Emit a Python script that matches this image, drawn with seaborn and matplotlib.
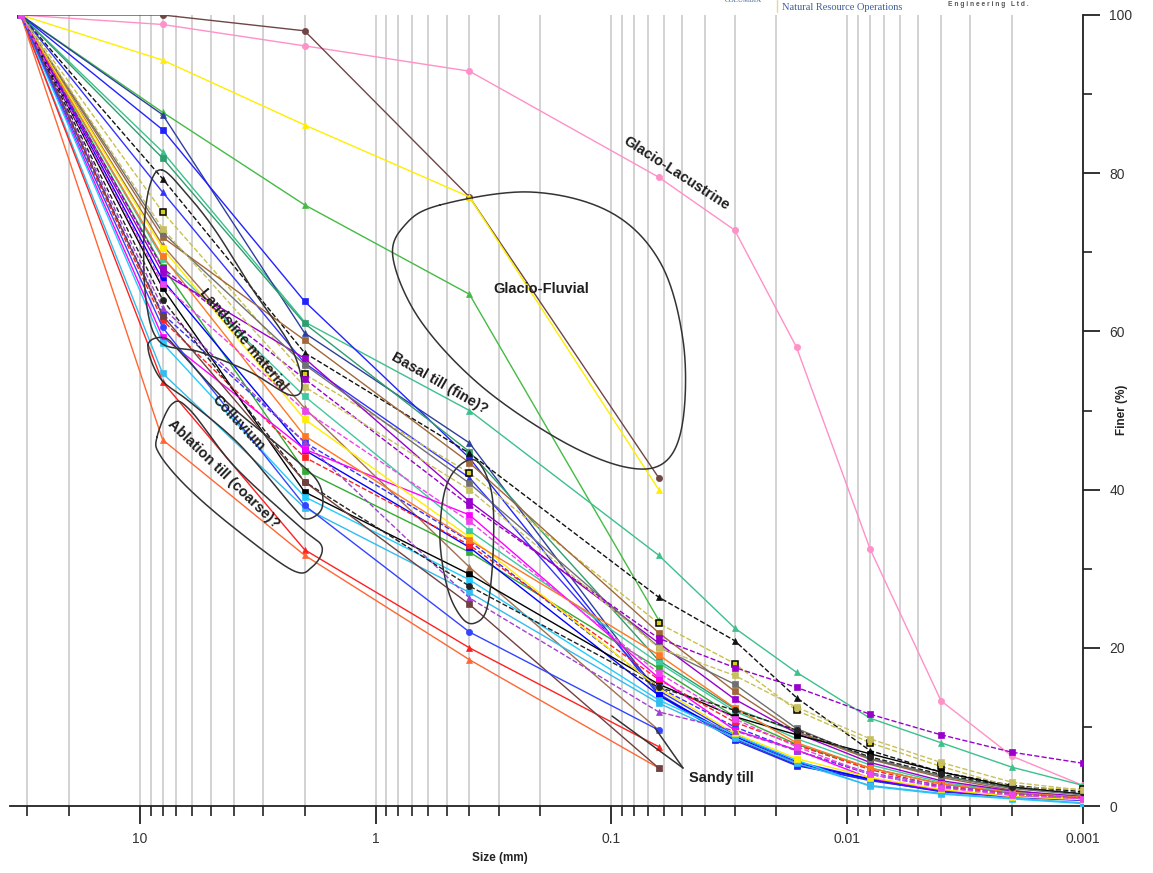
import numpy as np
import pandas as pd
import seaborn as sns
import matplotlib.pyplot as plt
from matplotlib.lines import Line2D
from matplotlib.ticker import FixedLocator, LogLocator, FuncFormatter, NullFormatter

nan = np.nan

# sieve / hydrometer sizes (mm)
sizes = [32, 8, 2, 0.4, 0.063, 0.03, 0.0164, 0.008, 0.004, 0.002, 0.001]

# percent finer for each sample
glacio_lacustrine = [100, 98.8, 96.1, 92.9, 79.5, 72.8, 58.0, 32.5, 13.3, 6.3, 2.6]
glacio_fluvial_a = [100, 100, 98.0, 77.0, 41.5, nan, nan, nan, nan, nan, nan]
glacio_fluvial_b = [100, 94.3, 86.1, 77.0, 40.0, nan, nan, nan, nan, nan, nan]
green_a = [100, 87.7, 76.0, 64.7, 23.5, nan, nan, nan, nan, nan, nan]
basal_fine = [100, 82.7, 61.2, 50.0, 31.7, 22.5, 16.9, 11.1, 8.0, 4.9, 2.6]
navy_a = [100, 87.4, 59.8, 45.9, 14.2, 8.5, 5.2, 3.2, 1.9, 1.2, 0.8]
blue_a = [100, 85.5, 63.8, 44.0, 14.0, 8.3, 5.1, 3.3, 1.8, 1.1, 0.7]
seagreen_a = [100, 81.9, 61.0, 44.8, 18.4, 12.3, 9.4, 6.0, 3.8, 2.3, 1.5]
black_dash_a = [100, 79.3, 57.3, 44.6, 26.4, 20.9, 13.7, 7.0, 4.3, 2.6, 1.8]
blue_b = [100, 77.6, 56.0, 41.5, 14.6, 9.0, 5.6, 3.4, 2.0, 1.2, 0.8]
olive_dash_a = [100, 75.1, 54.6, 42.1, 23.1, 18.0, 12.1, 8.0, 5.0, 2.4, 2.1]
brown_a = [100, 71.9, 58.9, 43.4, 21.9, 14.5, 9.4, 5.9, 3.6, 2.0, 0.9]
brown_sandy = [100, 70.9, 50.3, 30.2, 9.6, nan, nan, nan, nan, nan, nan]
aqua_a = [100, 69.2, 51.8, 34.8, 18.1, 12.0, 8.5, 5.2, 3.0, 1.8, 1.2]
green_b = [100, 68.2, 42.4, 32.1, 17.4, 11.3, 7.8, 4.8, 2.8, 1.6, 1.0]
purple_a = [100, 67.4, 56.6, 38.5, 20.6, 13.5, 9.2, 5.5, 3.2, 1.9, 1.2]
blue_c = [100, 66.5, 45.0, 32.7, 14.0, 8.8, 5.4, 3.4, 2.0, 1.2, 0.8]
black_a = [100, 65.5, 39.7, 29.3, 15.4, 11.3, 9.0, 6.6, 4.3, 2.4, 1.5]
blue_dash_a = [100, 62.2, 46.0, 33.5, 15.0, 10.0, 7.0, 4.0, 2.4, 1.4, 0.9]
red_dash_a = [100, 61.4, 44.1, 33.0, 16.0, 10.6, 7.7, 4.6, 2.5, 1.5, 1.0]
magenta_a = [100, 59.3, 45.1, 36.8, 16.2, 9.6, 7.1, 3.5, 2.0, 1.2, 0.8]
cyan_a = [100, 58.5, 39.1, 28.6, 13.4, 9.0, 5.8, 2.5, 1.5, 0.9, 0.3]
cyan_b = [100, 54.7, 37.7, 27.0, 13.0, 8.6, 5.4, 2.6, 1.6, 1.0, 0.4]
red_sandy = [100, 53.6, 32.4, 20.0, 7.5, nan, nan, nan, nan, nan, nan]
orange_sandy = [100, 46.3, 31.7, 18.5, 4.8, nan, nan, nan, nan, nan, nan]
grey_a = [100, 72.5, 55.8, 40.8, 20.1, 15.4, 9.8, 6.0, 3.8, 2.2, 1.4]
yellow_a = [100, 70.5, 48.9, 34.0, 14.9, 9.2, 6.0, 3.6, 2.1, 1.2, 0.8]
orange_a = [100, 69.5, 46.8, 33.6, 19.1, 12.4, 8.0, 4.8, 2.8, 1.7, 1.1]
purple_dash_a = [100, 68.0, 54.0, 38.0, 21.2, 17.5, 15.0, 11.6, 9.0, 6.8, 5.4]
purple_dash_b = [100, 63.0, 46.0, 26.3, 11.9, 9.5, 7.0, 4.2, 2.6, 1.6, 1.0]
black_dash_b = [100, 64.0, 41.0, 27.8, 15.0, 12.1, 9.6, 6.2, 4.0, 2.4, 1.6]
olive_dash_b = [100, 73.0, 53.0, 40.0, 20.0, 16.5, 12.5, 8.5, 5.5, 3.0, 2.0]
darkbrown_sandy = [100, 62.0, 41.0, 25.5, 4.8, nan, nan, nan, nan, nan, nan]
blue_sandy = [100, 60.5, 38.0, 22.0, 9.6, nan, nan, nan, nan, nan, nan]
magenta_dash_a = [100, 66.0, 50.0, 36.0, 16.8, 11.0, 7.5, 4.0, 2.3, 1.4, 0.9]

samples = {
    "glacio_lacustrine": glacio_lacustrine, "glacio_fluvial_a": glacio_fluvial_a,
    "glacio_fluvial_b": glacio_fluvial_b, "green_a": green_a, "basal_fine": basal_fine,
    "navy_a": navy_a, "blue_a": blue_a, "seagreen_a": seagreen_a,
    "black_dash_a": black_dash_a, "blue_b": blue_b, "olive_dash_a": olive_dash_a,
    "brown_a": brown_a, "brown_sandy": brown_sandy, "aqua_a": aqua_a, "green_b": green_b,
    "purple_a": purple_a, "blue_c": blue_c, "black_a": black_a, "blue_dash_a": blue_dash_a,
    "red_dash_a": red_dash_a, "magenta_a": magenta_a, "cyan_a": cyan_a, "cyan_b": cyan_b,
    "red_sandy": red_sandy, "orange_sandy": orange_sandy, "grey_a": grey_a,
    "yellow_a": yellow_a, "orange_a": orange_a, "purple_dash_a": purple_dash_a,
    "purple_dash_b": purple_dash_b, "black_dash_b": black_dash_b,
    "olive_dash_b": olive_dash_b, "darkbrown_sandy": darkbrown_sandy,
    "blue_sandy": blue_sandy, "magenta_dash_a": magenta_dash_a,
}

# colour, marker, linestyle, marker edge
styles = {
    "glacio_lacustrine": ("#ff90c8", "o", "-", None),
    "glacio_fluvial_a": ("#6e4646", "o", "-", None),
    "glacio_fluvial_b": ("#ffee00", "^", "-", None),
    "green_a": ("#44bb44", "^", "-", None),
    "basal_fine": ("#3cc08c", "^", "-", None),
    "navy_a": ("#2d3f9e", "^", "-", None),
    "blue_a": ("#2222ff", "s", "-", None),
    "seagreen_a": ("#2e9e6e", "s", "-", None),
    "black_dash_a": ("#111111", "^", "--", None),
    "blue_b": ("#3333ff", "^", "-", None),
    "olive_dash_a": ("#c8c048", "s", "--", "black"),
    "brown_a": ("#a0683a", "s", "-", None),
    "brown_sandy": ("#a07050", "^", "-", None),
    "aqua_a": ("#40c8a0", "s", "-", None),
    "green_b": ("#33aa33", "s", "-", None),
    "purple_a": ("#9900cc", "s", "-", None),
    "blue_c": ("#0000ff", "s", "-", None),
    "black_a": ("#000000", "s", "-", None),
    "blue_dash_a": ("#3333ff", "s", "--", None),
    "red_dash_a": ("#ff2222", "s", "--", None),
    "magenta_a": ("#ff00ff", "s", "-", None),
    "cyan_a": ("#22ccff", "s", "-", None),
    "cyan_b": ("#33bbee", "s", "-", None),
    "red_sandy": ("#ff2020", "^", "-", None),
    "orange_sandy": ("#ff6633", "^", "-", None),
    "grey_a": ("#707070", "s", "-", None),
    "yellow_a": ("#ffee00", "s", "-", None),
    "orange_a": ("#ff7722", "s", "-", None),
    "purple_dash_a": ("#9900cc", "s", "--", None),
    "purple_dash_b": ("#a040d0", "^", "--", None),
    "black_dash_b": ("#222222", "o", "--", None),
    "olive_dash_b": ("#c8c060", "s", "--", None),
    "darkbrown_sandy": ("#704040", "s", "-", None),
    "blue_sandy": ("#3344ff", "o", "-", None),
    "magenta_dash_a": ("#ee44ee", "s", "--", None),
}

rows = []
for name, vals in samples.items():
    for s, v in zip(sizes, vals):
        rows.append({"sample": name, "size": s, "finer": v})
df = pd.DataFrame(rows).dropna()

sns.set_style("white")
plt.rcParams["font.family"] = ["Liberation Sans", "DejaVu Sans"]

W, H = 1153, 873
fig = plt.figure(figsize=(W / 100, H / 100), dpi=100)
L, R, T, B = 10, 1083, 15, 806
ax = fig.add_axes([L / W, 1 - B / H, (R - L) / W, (B - T) / H])

for name in samples:
    col, mk, ls, mec = styles[name]
    sub = df[df["sample"] == name]
    face = "#d4cc22" if mec else col
    sns.lineplot(data=sub, x="size", y="finer", ax=ax, color=col, marker=mk,
                 linestyle=ls, lw=1.0, markersize=5 if mec else 4.5, mec=mec or col,
                 mfc=face, mew=1.1 if mec else 0.5, estimator=None, legend=False,
                 zorder=3)

ax.set_xscale("log")
ax.set_xlim(35.5, 0.001)
ax.set_ylim(0, 100)

ax.xaxis.set_major_locator(LogLocator(base=10, numticks=12))
ax.xaxis.set_minor_locator(LogLocator(base=10, subs=np.arange(2, 10), numticks=12))
ax.xaxis.set_major_formatter(FuncFormatter(lambda v, _: f"{v:g}"))
ax.xaxis.set_minor_formatter(NullFormatter())
ax.grid(axis="x", which="both", color="#cfcfcf", lw=1.3, zorder=0)
ax.grid(axis="y", visible=False)

ax.yaxis.tick_right()
ax.yaxis.set_major_locator(FixedLocator([0, 20, 40, 60, 80, 100]))
ax.yaxis.set_minor_locator(FixedLocator([10, 30, 50, 70, 90]))

for side in ["left", "top"]:
    ax.spines[side].set_visible(False)
for side in ["right", "bottom"]:
    ax.spines[side].set_color("#222222")
    ax.spines[side].set_linewidth(1.3)

ax.tick_params(axis="x", which="major", direction="out", length=13, width=1.3,
               color="#222222", labelsize=10, labelcolor="#333333", pad=6, bottom=True)
ax.tick_params(axis="x", which="minor", direction="out", length=7, width=1.2,
               color="#222222", bottom=True)
ax.tick_params(axis="y", which="major", direction="out", length=12, width=1.3,
               color="#222222", labelsize=10, labelcolor="#333333", pad=7,
               right=True, left=False)
ax.tick_params(axis="y", which="minor", direction="out", length=6.5, width=1.2,
               color="#222222", right=True, left=False)
ax.set_xlabel("")
ax.set_ylabel("")

fig.text(500 / W, 1 - 858 / H, "Size (mm)", ha="center", va="center",
         fontsize=8.5, fontweight="bold", color="#222222")
fig.text(1122 / W, 1 - 410 / H, "Finer (%)", ha="center", va="center",
         fontsize=8.5, fontweight="bold", color="#222222", rotation=90)


def to_axes(pts):
    p = np.asarray(pts, float)
    return np.column_stack([(p[:, 0] - L) / (R - L), (B - p[:, 1]) / (B - T)])


def closed_curve(pts, n=24):
    p = np.asarray(pts, float)
    N = len(p)
    t = np.linspace(0, 1, n, endpoint=False)[:, None]
    segs = []
    for i in range(N):
        p0, p1, p2, p3 = p[i - 1], p[i], p[(i + 1) % N], p[(i + 2) % N]
        segs.append(0.5 * (2 * p1 + (-p0 + p2) * t + (2 * p0 - 5 * p1 + 4 * p2 - p3) * t ** 2
                           + (-p0 + 3 * p1 - 3 * p2 + p3) * t ** 3))
    out = np.vstack(segs)
    return np.vstack([out, out[:1]])


# hand-drawn group outlines (pixel positions of the annotation sketch)
loops = [
    [(440, 205), (530, 192), (610, 212), (660, 262), (683, 340), (683, 420), (665, 462),
     (625, 467), (560, 440), (480, 385), (420, 320), (393, 258), (405, 225)],
    [(162, 170), (185, 192), (215, 230), (253, 290), (290, 345), (302, 385), (290, 395),
     (250, 372), (200, 352), (160, 342), (146, 300), (144, 230), (150, 185)],
    [(148, 345), (160, 378), (190, 402), (240, 445), (293, 507), (307, 519), (322, 508),
     (318, 482), (290, 455), (230, 405), (183, 355), (165, 338)],
    [(157, 437), (172, 404), (190, 410), (235, 467), (300, 527), (322, 547), (312, 567),
     (292, 570), (233, 527), (187, 487), (160, 455)],
    [(478, 462), (492, 495), (493, 555), (487, 608), (475, 623), (462, 618), (448, 590),
     (440, 540), (445, 490), (460, 465)],
]
for lp in loops:
    c = to_axes(closed_curve(lp))
    ax.plot(c[:, 0], c[:, 1], transform=ax.transAxes, color="#333333", lw=1.1,
            zorder=4, clip_on=False)

for seg in [[(683, 768), (655, 728)], [(683, 768), (612, 716)]]:
    c = to_axes(seg)
    ax.plot(c[:, 0], c[:, 1], transform=ax.transAxes, color="#333333", lw=1.1, zorder=4)

labels = [
    ("Glacio-Lacustrine", 676, 173, -33),
    ("Glacio-Fluvial", 541, 289, 0),
    ("Basal till (fine)?", 440, 383, -30),
    ("Landslide material", 243, 340, -50),
    ("Colluvium", 238, 423, -47),
    ("Ablation till (coarse)?", 224, 474, -44),
    ("Sandy till", 721, 778, 0),
]
for txt, x, y, rot in labels:
    fig.text(x / W, 1 - y / H, txt, ha="center", va="center", rotation=rot,
             rotation_mode="anchor", fontsize=10.5, fontweight="bold", color="#1e1e1e",
             zorder=6)

fig.text(743 / W, 1 - 1 / H, "COLUMBIA", ha="center", va="center",
         fontsize=5, family=["Liberation Serif", "DejaVu Serif"], color="#3d5d95")
fig.add_artist(Line2D([777 / W, 777 / W], [1, 1 - 12 / H], color="#e8d890", lw=1.0))
fig.text(782 / W, 1 - 7 / H, "Natural Resource Operations", ha="left", va="center",
         fontsize=7.5, family=["Liberation Serif", "DejaVu Serif"], color="#3d5d95")
fig.text(948 / W, 1 - 5 / H, "E n g i n e e r i n g   L t d .", ha="left", va="center",
         fontsize=4.8, fontweight="bold", color="#555555")

fig.savefig("out.png", dpi=100)
